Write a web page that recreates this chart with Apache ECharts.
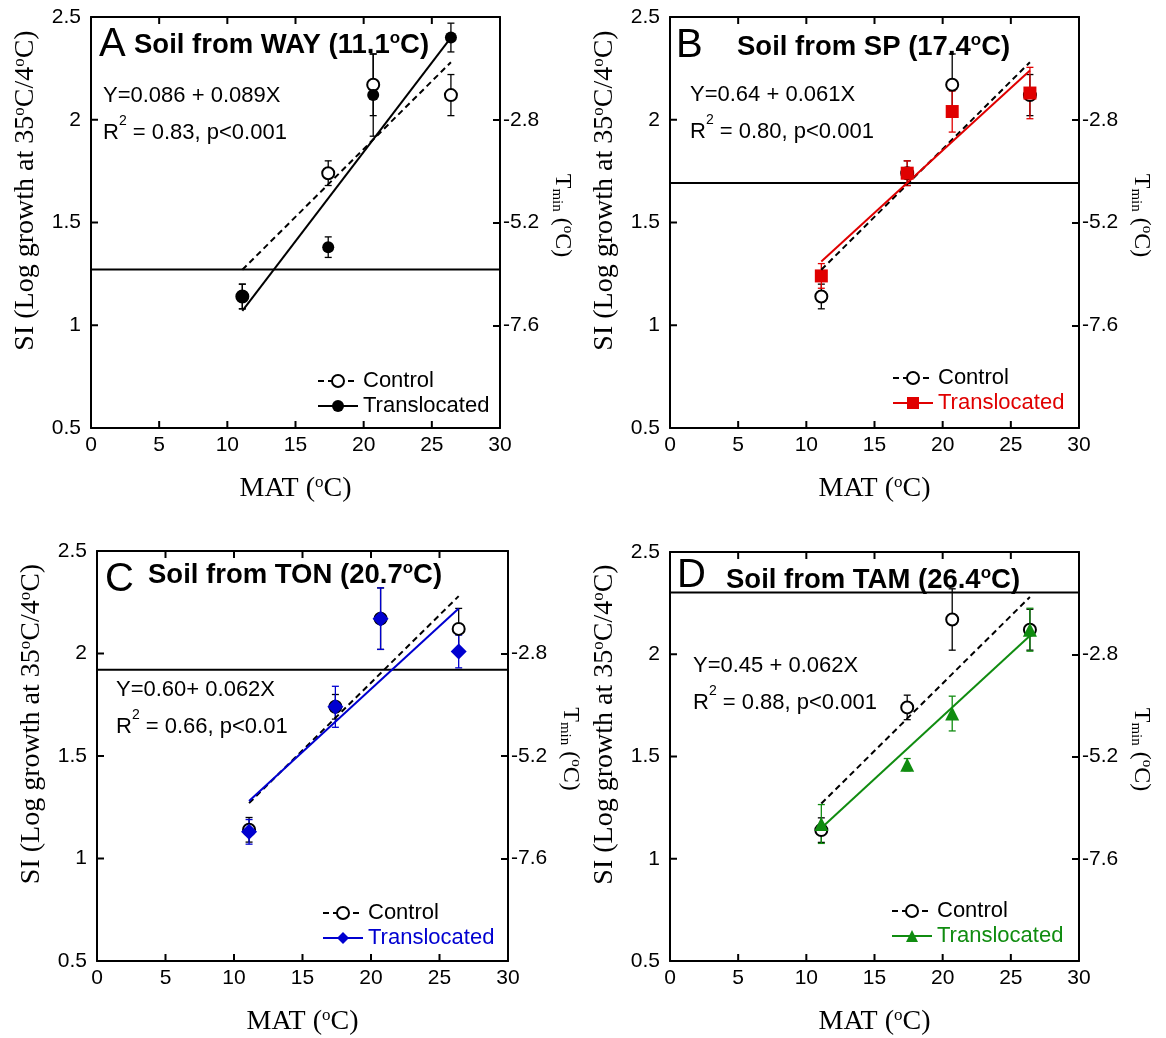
<!DOCTYPE html>
<html>
<head>
<meta charset="utf-8">
<script src="https://cdn.jsdelivr.net/npm/echarts@6/dist/echarts.min.js"></script>
<style>
  html, body { margin: 0; background: #fff; }
  #chart { width: 1166px; height: 1038px; }
</style>
</head>
<body>
<div id="chart"></div>
<script>
// site mean annual temperatures (x positions of every point)
const mat = [11.1, 17.4, 20.7, 26.4];
const fitX = [11.1, 26.4];

// axis ranges, labels and inner tick marks (end ticks fall on the frame corners)
const matRange = [0, 30];
const siRange = [0.5, 2.5];
const tminRange = [-10, -0.4];
const matLabels = [0, 5, 10, 15, 20, 25, 30];
const matTicks = [5, 10, 15, 20, 25];
const siLabels = [0.5, 1, 1.5, 2, 2.5];
const siTicks = [1, 1.5, 2];
const tminTicks = [-7.6, -5.2, -2.8];

// control soils (same in every panel)
const controlSI = [1.14, 1.74, 2.17, 2.12];
const controlErr = [0.06, 0.06, 0.15, 0.10];
const controlFit = [1.27, 2.28];

// translocated soils
const waySI = [1.14, 1.38, 2.12, 2.40];
const wayErr = [0.06, 0.05, 0.20, 0.07];
const wayFit = [1.07, 2.40];

const spSI = [1.24, 1.74, 2.04, 2.13];
const spErr = [0.06, 0.06, 0.10, 0.125];
const spFit = [1.31, 2.24];

const tonSI = [1.13, 1.74, 2.17, 2.01];
const tonErr = [0.06, 0.10, 0.15, 0.08];
const tonFit = [1.28, 2.22];

const tamSI = [1.17, 1.46, 1.71, 2.12];
const tamErr = [0.095, 0.03, 0.085, 0.105];
const tamFit = [1.15, 2.09];

// Tmin of the source site (right axis)
const siteTmin = [-6.3, -4.28, -3.18, -1.35];

const panelLetters = ["A", "B", "C", "D"];
const siteNames = ["WAY", "SP", "TON", "TAM"];
const siteMat = ["11.1", "17.4", "20.7", "26.4"];
const equations = ["Y=0.086 + 0.089X", "Y=0.64 + 0.061X", "Y=0.60+ 0.062X", "Y=0.45 + 0.062X"];
const r2Values = ["0.83", "0.80", "0.66", "0.88"];
const pValues = ["p<0.001", "p<0.001", "p<0.01", "p<0.001"];

const SANS = "'Liberation Sans', Arial, sans-serif";
const SERIF = "'Liberation Serif', 'Times New Roman', serif";

const panels = [
  { si: waySI, err: wayErr, fit: wayFit, color: "#000000", symbol: "circle", size: 12,
    grid: { left: 91, top: 17, width: 409, height: 411 },
    letter: [99, 25], title: [134, 30], eq: [103, 77], legend: [317, 370] },
  { si: spSI, err: spErr, fit: spFit, color: "#e00000", symbol: "rect", size: 13,
    grid: { left: 670, top: 17, width: 409, height: 411 },
    letter: [676, 26], title: [737, 32], eq: [690, 76], legend: [892, 367] },
  { si: tonSI, err: tonErr, fit: tonFit, color: "#0000d0", symbol: "diamond", size: 16,
    grid: { left: 97, top: 551, width: 411, height: 410 },
    letter: [105, 560], title: [148, 560], eq: [116, 671], legend: [322, 902] },
  { si: tamSI, err: tamErr, fit: tamFit, color: "#108c10", symbol: "triangle", size: 14,
    grid: { left: 670, top: 552, width: 409, height: 409 },
    letter: [677, 556], title: [726, 565], eq: [693, 647], legend: [891, 900] },
];

const TICK_LEN = 7;
const tickStyle = (values) => ({
  show: true, inside: true, length: TICK_LEN, customValues: values,
  lineStyle: { color: "#000", width: 2 },
});
const lineAxis = () => ({ show: true, onZero: false, lineStyle: { color: "#000", width: 2 } });

const errorBars = (color) => (params, api) => {
  const x = api.value(0);
  const lo = api.coord([x, api.value(1)]);
  const hi = api.coord([x, api.value(2)]);
  const w = 3.5;
  const style = { stroke: color, lineWidth: 1.3 };
  return {
    type: "group",
    children: [
      { type: "line", shape: { x1: hi[0], y1: hi[1], x2: lo[0], y2: lo[1] }, style },
      { type: "line", shape: { x1: hi[0] - w, y1: hi[1], x2: hi[0] + w, y2: hi[1] }, style },
      { type: "line", shape: { x1: lo[0] - w, y1: lo[1], x2: lo[0] + w, y2: lo[1] }, style },
    ],
  };
};

// inward frame ticks on bottom, top and left edges, placed through the axis scales
const frameTicks = (params, api) => {
  const style = { stroke: "#000", lineWidth: 2 };
  if (api.value(2) === 0) {
    const v = api.value(0);
    const b = api.coord([v, siRange[0]]);
    const t = api.coord([v, siRange[1]]);
    return {
      type: "group",
      children: [
        { type: "line", shape: { x1: b[0], y1: b[1], x2: b[0], y2: b[1] - TICK_LEN }, style },
        { type: "line", shape: { x1: t[0], y1: t[1], x2: t[0], y2: t[1] + TICK_LEN }, style },
      ],
    };
  }
  const l = api.coord([matRange[0], api.value(1)]);
  return { type: "line", shape: { x1: l[0], y1: l[1], x2: l[0] + TICK_LEN, y2: l[1] }, style };
};

const grid = [];
const xAxis = [];
const yAxis = [];
const series = [];
const title = [];
const legend = [];

panels.forEach((p, i) => {
  const tag = "#" + panelLetters[i];
  grid.push(p.grid);

  xAxis.push({
    gridIndex: i, type: "value", position: "bottom", min: matRange[0], max: matRange[1],
    axisLine: lineAxis(), axisTick: { show: false }, splitLine: { show: false },
    axisLabel: { customValues: matLabels, color: "#000", fontFamily: SANS, fontSize: 21, margin: 7 },
    name: "{t|MAT (}{s|o}{t|C)}", nameLocation: "middle", nameGap: 46,
    nameTextStyle: { rich: {
      t: { fontFamily: SERIF, fontSize: 28, lineHeight: 30, color: "#000" },
      s: { fontFamily: SERIF, fontSize: 17, lineHeight: 14, verticalAlign: "top", color: "#000" },
    } },
  });
  xAxis.push({
    gridIndex: i, type: "value", position: "top", min: matRange[0], max: matRange[1],
    axisLine: lineAxis(), axisTick: { show: false }, splitLine: { show: false },
    axisLabel: { show: false },
  });

  yAxis.push({
    gridIndex: i, type: "value", position: "left", min: siRange[0], max: siRange[1],
    axisLine: lineAxis(), axisTick: { show: false }, splitLine: { show: false },
    axisLabel: { customValues: siLabels, color: "#000", fontFamily: SANS, fontSize: 21, margin: 10 },
    name: "{t|SI (Log growth at 35}{s|o}{t|C/4}{s|o}{t|C)}", nameLocation: "middle", nameGap: 50,
    nameTextStyle: {
      padding: [0, 0, 0, 64],
      rich: {
        t: { fontFamily: SERIF, fontSize: 28, lineHeight: 30, color: "#000" },
        s: { fontFamily: SERIF, fontSize: 17, lineHeight: 14, verticalAlign: "top", color: "#000" },
      },
    },
  });
  yAxis.push({
    gridIndex: i, type: "value", position: "right", min: tminRange[0], max: tminRange[1],
    axisLine: lineAxis(), axisTick: tickStyle(tminTicks), splitLine: { show: false },
    axisLabel: { customValues: tminTicks, color: "#000", fontFamily: SANS, fontSize: 21, margin: 3 },
    name: "{t|T}{m|min}{t| (}{s|o}{t|C)}", nameLocation: "middle", nameGap: 49, nameRotate: -90,
    nameTextStyle: {
      padding: [0, 14, 0, 0],
      rich: {
        t: { fontFamily: SERIF, fontSize: 24, lineHeight: 26, color: "#000" },
        m: { fontFamily: SERIF, fontSize: 15, lineHeight: 14, verticalAlign: "bottom", color: "#000" },
        s: { fontFamily: SERIF, fontSize: 15, lineHeight: 12, verticalAlign: "top", color: "#000" },
      },
    },
  });

  const xi = 2 * i;
  const yl = 2 * i;
  const yr = 2 * i + 1;

  series.push({
    name: "ticks" + tag, type: "custom", xAxisIndex: xi, yAxisIndex: yl, silent: true,
    renderItem: frameTicks, clip: false,
    encode: { x: 0, y: 1 },
    data: matTicks.map((v) => [v, siRange[0], 0]).concat(siTicks.map((v) => [matRange[0], v, 1])),
  });
  series.push({
    name: "tmin" + tag, type: "line", xAxisIndex: xi, yAxisIndex: yr, silent: true,
    data: [[matRange[0], siteTmin[i]], [matRange[1], siteTmin[i]]], symbol: "none",
    lineStyle: { color: "#000", width: 2 },
  });
  series.push({
    name: "Control" + tag, type: "line", xAxisIndex: xi, yAxisIndex: yl, silent: true,
    data: fitX.map((x, k) => [x, controlFit[k]]),
    symbol: "emptyCircle", symbolSize: 11, showSymbol: false,
    itemStyle: { color: "#000" },
    lineStyle: { color: "#000", width: 2, type: [6, 4] },
  });
  series.push({
    name: "Translocated" + tag, type: "line", xAxisIndex: xi, yAxisIndex: yl, silent: true,
    data: fitX.map((x, k) => [x, p.fit[k]]),
    symbol: p.symbol, symbolSize: p.size, showSymbol: false,
    itemStyle: { color: p.color },
    lineStyle: { color: p.color, width: 2 },
  });
  series.push({
    name: "ctlErr" + tag, type: "custom", xAxisIndex: xi, yAxisIndex: yl, silent: true,
    renderItem: errorBars("#000"),
    encode: { x: 0, y: [1, 2] },
    data: mat.map((x, k) => [x, controlSI[k] - controlErr[k], controlSI[k] + controlErr[k]]),
  });
  series.push({
    name: "ctlPts" + tag, type: "scatter", xAxisIndex: xi, yAxisIndex: yl, silent: true,
    symbol: "emptyCircle", symbolSize: 12,
    itemStyle: { color: "#000", borderWidth: 1.2, opacity: 1 },
    data: mat.map((x, k) => [x, controlSI[k]]),
  });
  series.push({
    name: "trErr" + tag, type: "custom", xAxisIndex: xi, yAxisIndex: yl, silent: true,
    renderItem: errorBars(p.color),
    encode: { x: 0, y: [1, 2] },
    data: mat.map((x, k) => [x, p.si[k] - p.err[k], p.si[k] + p.err[k]]),
  });
  series.push({
    name: "trPts" + tag, type: "scatter", xAxisIndex: xi, yAxisIndex: yl, silent: true,
    symbol: p.symbol, symbolSize: p.size,
    itemStyle: { color: p.color, opacity: 1 },
    data: mat.map((x, k) => [x, p.si[k]]),
  });

  title.push({
    text: panelLetters[i], left: p.letter[0], top: p.letter[1], padding: 0,
    textStyle: { fontFamily: SANS, fontSize: 40, fontWeight: "normal", lineHeight: 40, color: "#000" },
  });
  title.push({
    text: "{a|Soil from " + siteNames[i] + " (" + siteMat[i] + "}{s|o}{a|C)}",
    left: p.title[0], top: p.title[1], padding: 0,
    textStyle: { rich: {
      a: { fontFamily: SANS, fontSize: 27.5, fontWeight: "bold", lineHeight: 30, color: "#000" },
      s: { fontFamily: SANS, fontSize: 17, fontWeight: "bold", lineHeight: 12, verticalAlign: "top", color: "#000" },
    } },
  });
  title.push({
    text: "{e|" + equations[i] + "}\n{e|R}{s|2}{e| = " + r2Values[i] + ", " + pValues[i] + "}",
    left: p.eq[0], top: p.eq[1], padding: 0,
    textStyle: { fontWeight: "normal", rich: {
      e: { fontFamily: SANS, fontSize: 22, fontWeight: "normal", lineHeight: 37, color: "#000" },
      s: { fontFamily: SANS, fontSize: 14, fontWeight: "normal", lineHeight: 24, verticalAlign: "top", color: "#000" },
    } },
  });

  legend.push({
    left: p.legend[0], top: p.legend[1], orient: "vertical", padding: 0,
    itemWidth: 40, itemHeight: 15, itemGap: 3, selectedMode: false,
    formatter: (name) => name.split("#")[0],
    textStyle: { fontFamily: SANS, fontSize: 22, color: "#000" },
    data: [
      { name: "Control" + tag },
      { name: "Translocated" + tag, textStyle: { color: p.color } },
    ],
  });
});

const chart = echarts.init(document.getElementById("chart"), null, { renderer: "canvas" });
chart.setOption({
  animation: false,
  backgroundColor: "#fff",
  title,
  legend,
  grid,
  xAxis,
  yAxis,
  series,
});
</script>
</body>
</html>
